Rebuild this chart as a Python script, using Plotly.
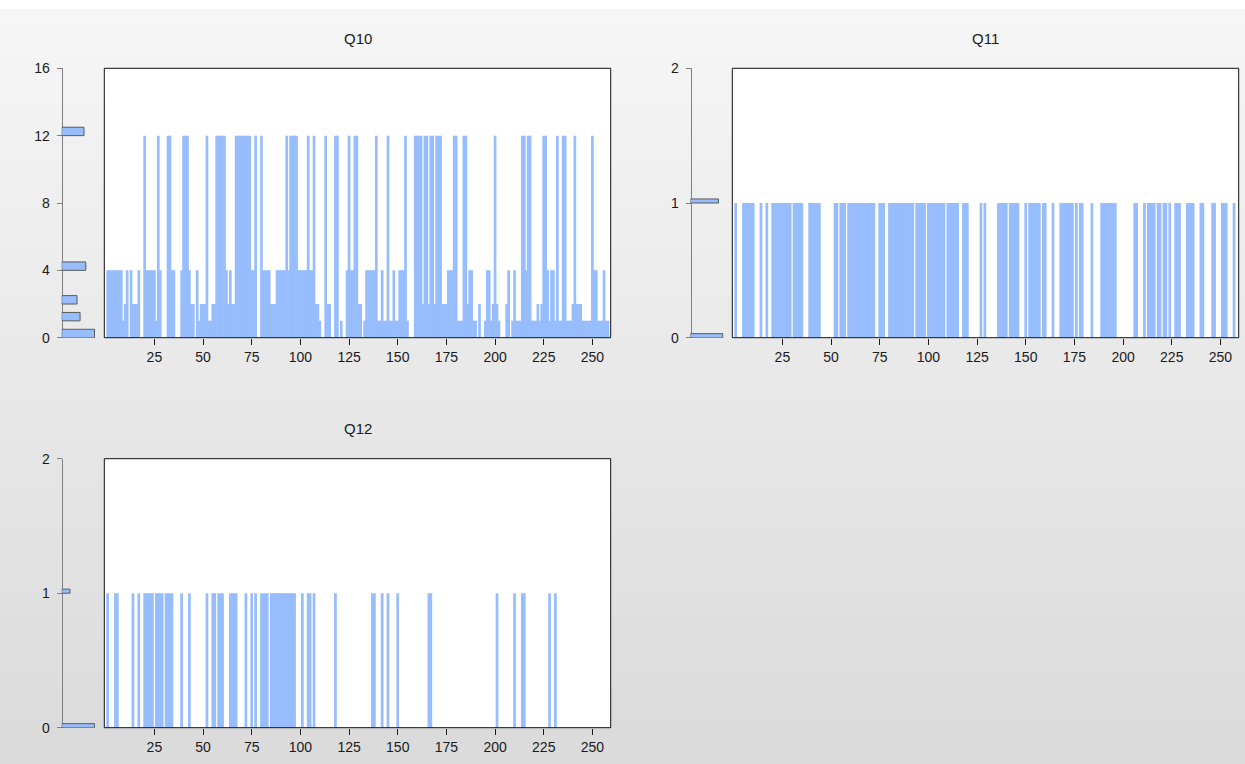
import plotly.graph_objects as go

# ---------------------------------------------------------------------------
# Data: one value per observation (1..258) for each series
# ---------------------------------------------------------------------------
obs = list(range(1, 259))

q10 = [
    4, 4, 4, 4, 4, 4, 4, 4, 1, 2, 4, 0, 4, 2, 2, 2, 4, 0, 0, 12,            # 1-20
    4, 4, 4, 4, 4, 1, 12, 4, 0, 0, 0, 12, 12, 4, 4, 0, 0, 0, 4, 12,         # 21-40
    12, 12, 4, 2, 2, 0, 4, 1, 2, 2, 2, 12, 1, 1, 2, 2, 12, 12, 12, 12,      # 41-60
    12, 4, 2, 4, 2, 2, 12, 12, 12, 12, 12, 12, 12, 12, 4, 4, 12, 0, 0, 12,  # 61-80
    4, 4, 4, 4, 2, 2, 2, 4, 4, 4, 4, 4, 12, 4, 12, 12, 12, 12, 4, 4,        # 81-100
    4, 4, 4, 12, 4, 4, 12, 2, 2, 1, 0, 0, 12, 2, 2, 0, 0, 12, 12, 0,        # 101-120
    1, 0, 0, 4, 12, 4, 4, 12, 12, 2, 2, 0, 1, 4, 4, 4, 4, 4, 12, 1,         # 121-140
    1, 4, 1, 1, 12, 1, 1, 4, 1, 1, 4, 4, 4, 12, 1, 0, 0, 0, 12, 12,         # 141-160
    12, 12, 2, 12, 12, 2, 12, 12, 2, 12, 12, 12, 2, 2, 2, 4, 4, 4, 12, 12,  # 161-180
    1, 1, 1, 12, 12, 2, 4, 4, 1, 1, 0, 2, 0, 0, 1, 4, 4, 1, 2, 12,          # 181-200
    2, 1, 0, 0, 0, 2, 4, 0, 1, 4, 1, 1, 1, 12, 12, 4, 12, 12, 1, 1,         # 201-220
    1, 2, 1, 2, 12, 12, 4, 1, 4, 4, 1, 12, 1, 1, 12, 12, 1, 1, 1, 2,        # 221-240
    12, 2, 2, 2, 1, 1, 1, 1, 1, 12, 4, 4, 1, 1, 1, 4, 1, 1,                 # 241-258
]

q11 = [
    1, 0, 0, 0, 1, 1, 1, 1, 1, 1, 0, 0, 0, 1, 0, 0, 1, 0, 0, 1,   # 1-20
    1, 1, 1, 1, 1, 1, 1, 1, 1, 0, 1, 1, 1, 1, 1, 0, 0, 0, 1, 1,   # 21-40
    1, 1, 1, 1, 0, 0, 0, 0, 0, 0, 0, 1, 1, 0, 1, 1, 1, 0, 1, 1,   # 41-60
    1, 1, 1, 1, 1, 1, 1, 1, 1, 1, 1, 1, 0, 0, 1, 1, 1, 0, 0, 1,   # 61-80
    1, 1, 1, 1, 1, 1, 1, 1, 1, 1, 1, 1, 0, 1, 1, 1, 1, 1, 0, 1,   # 81-100
    1, 1, 1, 1, 1, 1, 1, 1, 0, 1, 1, 1, 1, 1, 1, 0, 0, 1, 1, 1,   # 101-120
    0, 0, 0, 0, 0, 0, 1, 0, 1, 0, 0, 0, 0, 0, 0, 1, 1, 1, 1, 1,   # 121-140
    0, 1, 1, 1, 1, 1, 0, 0, 0, 1, 0, 1, 1, 1, 1, 1, 1, 0, 1, 1,   # 141-160
    0, 0, 0, 1, 0, 0, 0, 1, 1, 1, 1, 1, 1, 1, 0, 1, 0, 1, 1, 0,   # 161-180
    0, 0, 0, 1, 0, 0, 0, 0, 1, 1, 1, 1, 1, 1, 1, 1, 0, 0, 0, 0,   # 181-200
    0, 0, 0, 0, 0, 1, 1, 0, 0, 0, 1, 0, 1, 1, 1, 1, 0, 1, 1, 0,   # 201-220
    1, 1, 0, 1, 0, 0, 1, 1, 1, 0, 0, 0, 1, 1, 1, 1, 0, 0, 0, 1,   # 221-240
    1, 0, 0, 0, 0, 1, 1, 0, 0, 0, 1, 1, 1, 0, 0, 0, 1, 0,         # 241-258
]

q12 = [
    1, 0, 0, 0, 1, 1, 0, 0, 0, 0, 0, 0, 0, 1, 0, 0, 1, 0, 0, 1,   # 1-20
    1, 1, 1, 1, 0, 1, 1, 1, 1, 0, 1, 1, 1, 1, 0, 0, 0, 0, 1, 0,   # 21-40
    0, 0, 1, 0, 0, 0, 0, 0, 0, 0, 0, 1, 0, 0, 1, 1, 0, 1, 1, 1,   # 41-60
    0, 0, 0, 1, 1, 1, 1, 0, 0, 0, 0, 1, 0, 0, 1, 0, 1, 0, 0, 1,   # 61-80
    1, 1, 1, 0, 1, 1, 1, 1, 1, 1, 1, 1, 1, 1, 1, 1, 1, 0, 0, 0,   # 81-100
    1, 0, 0, 1, 1, 0, 1, 0, 0, 0, 0, 0, 0, 0, 0, 0, 0, 1, 0, 0,   # 101-120
    0, 0, 0, 0, 0, 0, 0, 0, 0, 0, 0, 0, 0, 0, 0, 0, 1, 1, 0, 0,   # 121-140
    0, 1, 0, 0, 1, 0, 0, 0, 0, 1, 0, 0, 0, 0, 0, 0, 0, 0, 0, 0,   # 141-160
    0, 0, 0, 0, 0, 1, 1, 0, 0, 0, 0, 0, 0, 0, 0, 0, 0, 0, 0, 0,   # 161-180
    0, 0, 0, 0, 0, 0, 0, 0, 0, 0, 0, 0, 0, 0, 0, 0, 0, 0, 0, 0,   # 181-200
    1, 0, 0, 0, 0, 0, 0, 0, 0, 1, 0, 0, 0, 1, 1, 0, 0, 0, 0, 0,   # 201-220
    0, 0, 0, 0, 0, 0, 0, 1, 0, 0, 1, 0, 0, 0, 0, 0, 0, 0, 0, 0,   # 221-240
    0, 0, 0, 0, 0, 0, 0, 0, 0, 0, 0, 0, 0, 0, 0, 0, 0, 0,         # 241-258
]

# Border histograms (bin start value -> observation count)
q10_bins = [0, 1, 2, 4, 12]
q10_counts = [75, 42, 35, 55, 51]
q11_bins = [0, 1]
q11_counts = [138, 120]
q12_bins = [0, 1]
q12_counts = [206, 52]

x_ticks = [25, 50, 75, 100, 125, 150, 175, 200, 225, 250]
q10_yticks = [0, 4, 8, 12, 16]
q01_yticks = [0, 1, 2]

# ---------------------------------------------------------------------------
# Styling / geometry (pixel positions converted to paper fractions)
# ---------------------------------------------------------------------------
W, H = 1245, 764
TOP_PAD, DRAW_H = 8.0, 748.0   # vertical band the page actually draws into
BLUE = "#97bdfd"
FONT = "Arial, Liberation Sans, sans-serif"


def fx(px):
    return px / W


def fy(px):
    return 1 - (px - TOP_PAD) / DRAW_H


panels = [
    # title, values, bins, counts, bin height, y max, y ticks, axis x, frame x0, frame x1, top, bottom
    ("Q10", q10, q10_bins, q10_counts, 0.5, 16, q10_yticks, 61.7, 104.3, 610.7, 68.3, 337.7),
    ("Q11", q11, q11_bins, q11_counts, 0.03, 2, q01_yticks, 690.5, 732.3, 1238.7, 68.3, 337.7),
    ("Q12", q12, q12_bins, q12_counts, 0.03, 2, q01_yticks, 61.7, 104.3, 610.7, 458.7, 727.7),
]

fig = go.Figure()
layout = dict(
    width=W, height=H,
    margin=dict(l=0, r=0, t=0, b=0),
    paper_bgcolor="#eeeeee",
    plot_bgcolor="rgba(0,0,0,0)",
    showlegend=False,
    barmode="overlay",
    font=dict(family=FONT, size=14, color="#1a1a1a"),
)

shapes = []
annotations = []

# soft vertical gradient for the page background
n_strips = 48
top_c, bot_c = (246, 246, 246), (218, 218, 218)
y_start, y_end = 9.0, 770.0
for i in range(n_strips):
    t = i / (n_strips - 1)
    c = tuple(round(top_c[k] + (bot_c[k] - top_c[k]) * t) for k in range(3))
    y0 = y_start + (y_end - y_start) * i / n_strips
    y1 = y_start + (y_end - y_start) * (i + 1) / n_strips
    shapes.append(dict(type="rect", xref="paper", yref="paper", layer="below",
                       x0=0, x1=1, y0=fy(y1) - 0.001, y1=fy(y0) + 0.001,
                       line=dict(width=0), fillcolor="rgb(%d,%d,%d)" % c))
shapes.append(dict(type="rect", xref="paper", yref="paper", layer="below",
                   x0=0, x1=1, y0=fy(y_start), y1=1.02,
                   line=dict(width=0), fillcolor="#ffffff"))

for i, (title, vals, bins, counts, bh, ymax, yticks, ax_x, fx0, fx1, top, bot) in enumerate(panels):
    n = i + 1
    xa_bar = "xaxis%d" % (2 * n - 1) if 2 * n - 1 > 1 else "xaxis"
    xa_hist = "xaxis%d" % (2 * n)
    ya = "yaxis%d" % n if n > 1 else "yaxis"
    xr_bar = "x%d" % (2 * n - 1) if 2 * n - 1 > 1 else "x"
    xr_hist = "x%d" % (2 * n)
    yr = "y%d" % n if n > 1 else "y"

    ydom = [fy(bot), fy(top)]

    layout[xa_bar] = dict(
        domain=[fx(fx0), fx(fx1)], anchor=yr, range=[-0.73, 259.4],
        tickmode="array", tickvals=x_ticks, ticktext=[str(v) for v in x_ticks],
        ticks="outside", ticklen=6, tickwidth=1, tickcolor="#1a1a1a",
        showgrid=False, zeroline=False, showline=False,
        tickfont=dict(size=14, color="#1a1a1a", family=FONT),
        fixedrange=True,
    )
    layout[xa_hist] = dict(
        domain=[fx(ax_x), fx(fx0)], anchor=yr, range=[0, max(counts) / 0.77],
        visible=False, fixedrange=True,
    )
    layout[ya] = dict(
        domain=ydom, anchor="free", position=fx(ax_x), range=[0, ymax],
        tickmode="array", tickvals=yticks, ticktext=[str(v) for v in yticks],
        ticks="outside", ticklen=5, tickwidth=1, tickcolor="#808080",
        showline=True, linecolor="#808080", linewidth=1,
        showgrid=False, zeroline=False,
        ticklabelstandoff=4,
        tickfont=dict(size=14, color="#1a1a1a", family=FONT),
        fixedrange=True,
    )

    # observation bars
    fig.add_trace(go.Bar(
        x=obs, y=vals, width=1.4, xaxis=xr_bar, yaxis=yr,
        marker=dict(color=BLUE, line=dict(width=0)),
        hoverinfo="x+y",
    ))
    # border histogram along the value axis
    fig.add_trace(go.Bar(
        x=counts, y=[b + bh / 2 for b in bins], width=bh, orientation="h",
        xaxis=xr_hist, yaxis=yr,
        marker=dict(color=BLUE, line=dict(color="#5a5a5a", width=1)),
        hoverinfo="x+y",
    ))

    # white plot face and black frame
    shapes.append(dict(type="rect", xref="paper", yref="paper", layer="below",
                       x0=fx(fx0), x1=fx(fx1), y0=ydom[0], y1=ydom[1],
                       line=dict(width=0), fillcolor="#ffffff"))
    shapes.append(dict(type="rect", xref="paper", yref="paper", layer="above",
                       x0=fx(fx0), x1=fx(fx1), y0=ydom[0], y1=ydom[1],
                       line=dict(color="#111111", width=1), fillcolor="rgba(0,0,0,0)"))

    annotations.append(dict(
        text=title, xref="paper", yref="paper",
        x=fx((fx0 + fx1) / 2), y=fy(top - 30), xanchor="center", yanchor="middle",
        showarrow=False, font=dict(size=15, color="#1a1a1a", family=FONT),
    ))

layout["shapes"] = shapes
layout["annotations"] = annotations
fig.update_layout(**layout)

fig.write_html("out.html")
